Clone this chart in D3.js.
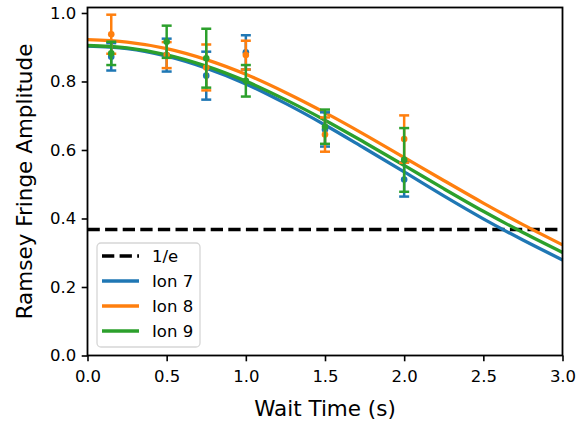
<!DOCTYPE html>
<html>
<head>
<meta charset="utf-8">
<script src="https://cdn.jsdelivr.net/npm/d3@7"></script>
<style>
  body { margin: 0; background: #fff; }
  svg { display: block; font-family: "DejaVu Sans", sans-serif; }
</style>
</head>
<body>
<svg id="chart"></svg>
<script>
// Measured points (wait time in s)
const waitTimes = [0.15, 0.5, 0.75, 1.0, 1.5, 2.0];
const ion7Values = [0.872, 0.877, 0.817, 0.885, 0.66, 0.514];
const ion7Errors = [0.04, 0.048, 0.07, 0.05, 0.05, 0.05];
const ion8Values = [0.938, 0.877, 0.841, 0.877, 0.645, 0.632];
const ion8Errors = [0.057, 0.038, 0.067, 0.042, 0.05, 0.069];
const ion9Values = [0.882, 0.916, 0.868, 0.802, 0.668, 0.571];
const ion9Errors = [0.034, 0.047, 0.086, 0.046, 0.05, 0.093];

// Fit curves, every 0.25 s
const fitTimes = [0, 0.25, 0.5, 0.75, 1.0, 1.25, 1.5, 1.75, 2.0, 2.25, 2.5, 2.75, 3.0];
const ion7Fit = [0.903, 0.896, 0.874, 0.839, 0.793, 0.736, 0.673, 0.605, 0.536, 0.466, 0.399, 0.337, 0.279];
const ion8Fit = [0.922, 0.915, 0.896, 0.864, 0.821, 0.768, 0.709, 0.645, 0.578, 0.511, 0.445, 0.382, 0.323];
const ion9Fit = [0.905, 0.898, 0.878, 0.845, 0.801, 0.747, 0.687, 0.622, 0.555, 0.487, 0.421, 0.359, 0.301];

const threshold = 1 / Math.E;
const xTicks = [0, 0.5, 1.0, 1.5, 2.0, 2.5, 3.0];
const yTicks = [0, 0.2, 0.4, 0.6, 0.8, 1.0];

const series = [
  { name: "Ion 7", color: "#1f77b4", values: ion7Values, errors: ion7Errors, fit: ion7Fit },
  { name: "Ion 8", color: "#ff7f0e", values: ion8Values, errors: ion8Errors, fit: ion8Fit },
  { name: "Ion 9", color: "#2ca02c", values: ion9Values, errors: ion9Errors, fit: ion9Fit }
];

const width = 577;
const height = 421;
const margin = { top: 7.5, right: 14.5, bottom: 65.5, left: 87.5 };

const svg = d3.select("#chart").attr("width", width).attr("height", height);

const x = d3.scaleLinear().domain([0, 3]).range([margin.left, width - margin.right]);
const y = d3.scaleLinear().domain([0, 1.016]).range([height - margin.bottom, margin.top]);

const plot = svg.append("g");

// 1/e reference line
plot.append("line")
  .attr("x1", x(0)).attr("x2", x(3))
  .attr("y1", y(threshold)).attr("y2", y(threshold))
  .attr("stroke", "#000")
  .attr("stroke-width", 3.3)
  .attr("stroke-dasharray", "12.3,5.3");

// Fit curves
const line = d3.line()
  .x((d, i) => x(fitTimes[i]))
  .y((d) => y(d))
  .curve(d3.curveCatmullRom);

series.forEach((s) => {
  plot.append("path")
    .attr("d", line(s.fit))
    .attr("fill", "none")
    .attr("stroke", s.color)
    .attr("stroke-width", 3.3);
});

// Error bars with caps and dots
const capHalf = 5;
series.forEach((s) => {
  const g = plot.append("g").attr("stroke", s.color).attr("fill", s.color);
  waitTimes.forEach((t, i) => {
    const cx = x(t);
    const lo = y(s.values[i] - s.errors[i]);
    const hi = y(s.values[i] + s.errors[i]);
    g.append("line").attr("x1", cx).attr("x2", cx).attr("y1", lo).attr("y2", hi).attr("stroke-width", 2.5);
    g.append("line").attr("x1", cx - capHalf).attr("x2", cx + capHalf).attr("y1", lo).attr("y2", lo).attr("stroke-width", 2.5);
    g.append("line").attr("x1", cx - capHalf).attr("x2", cx + capHalf).attr("y1", hi).attr("y2", hi).attr("stroke-width", 2.5);
    g.append("circle").attr("cx", cx).attr("cy", y(s.values[i])).attr("r", 3.3).attr("stroke", "none");
  });
});

// Axes
const xAxis = svg.append("g")
  .attr("transform", `translate(0,${height - margin.bottom})`)
  .call(d3.axisBottom(x).tickValues(xTicks).tickFormat(d3.format(".1f")).tickSize(5.8).tickPadding(9));
const yAxis = svg.append("g")
  .attr("transform", `translate(${margin.left},0)`)
  .call(d3.axisLeft(y).tickValues(yTicks).tickFormat(d3.format(".1f")).tickSize(5.8).tickPadding(5.5));

[xAxis, yAxis].forEach((a) => {
  a.select(".domain").remove();
  a.selectAll(".tick line").attr("stroke", "#000").attr("stroke-width", 1.6);
  a.selectAll(".tick text")
    .attr("fill", "#000")
    .style("font-family", "DejaVu Sans")
    .style("font-size", "16.5px");
});

// Frame
svg.append("rect")
  .attr("x", margin.left).attr("y", margin.top)
  .attr("width", width - margin.left - margin.right)
  .attr("height", height - margin.top - margin.bottom)
  .attr("fill", "none")
  .attr("stroke", "#000")
  .attr("stroke-width", 1.8);

// Axis labels
svg.append("text")
  .attr("x", (margin.left + width - margin.right) / 2)
  .attr("y", 416)
  .attr("text-anchor", "middle")
  .style("font-size", "21.5px")
  .text("Wait Time (s)");

svg.append("text")
  .attr("transform", `translate(32,${(margin.top + height - margin.bottom) / 2}) rotate(-90)`)
  .attr("text-anchor", "middle")
  .style("font-size", "21.5px")
  .text("Ramsey Fringe Amplitude");

// Legend
const legend = svg.append("g").attr("transform", "translate(97,243)");
legend.append("rect")
  .attr("width", 103).attr("height", 104)
  .attr("rx", 4)
  .attr("fill", "#fff").attr("fill-opacity", 0.8)
  .attr("stroke", "#d6d6d6").attr("stroke-width", 1.3);

const legendItems = [{ name: "1/e", color: "#000", dashed: true }].concat(series);
legendItems.forEach((item, i) => {
  const ly = 13 + i * 25;
  legend.append("line")
    .attr("x1", 5).attr("x2", 42)
    .attr("y1", ly).attr("y2", ly)
    .attr("stroke", item.color)
    .attr("stroke-width", 3.3)
    .attr("stroke-dasharray", item.dashed ? "12.3,5.3" : null);
  legend.append("text")
    .attr("x", 55).attr("y", ly)
    .attr("dy", "0.36em")
    .style("font-size", "16.5px")
    .text(item.name);
});
</script>
</body>
</html>
